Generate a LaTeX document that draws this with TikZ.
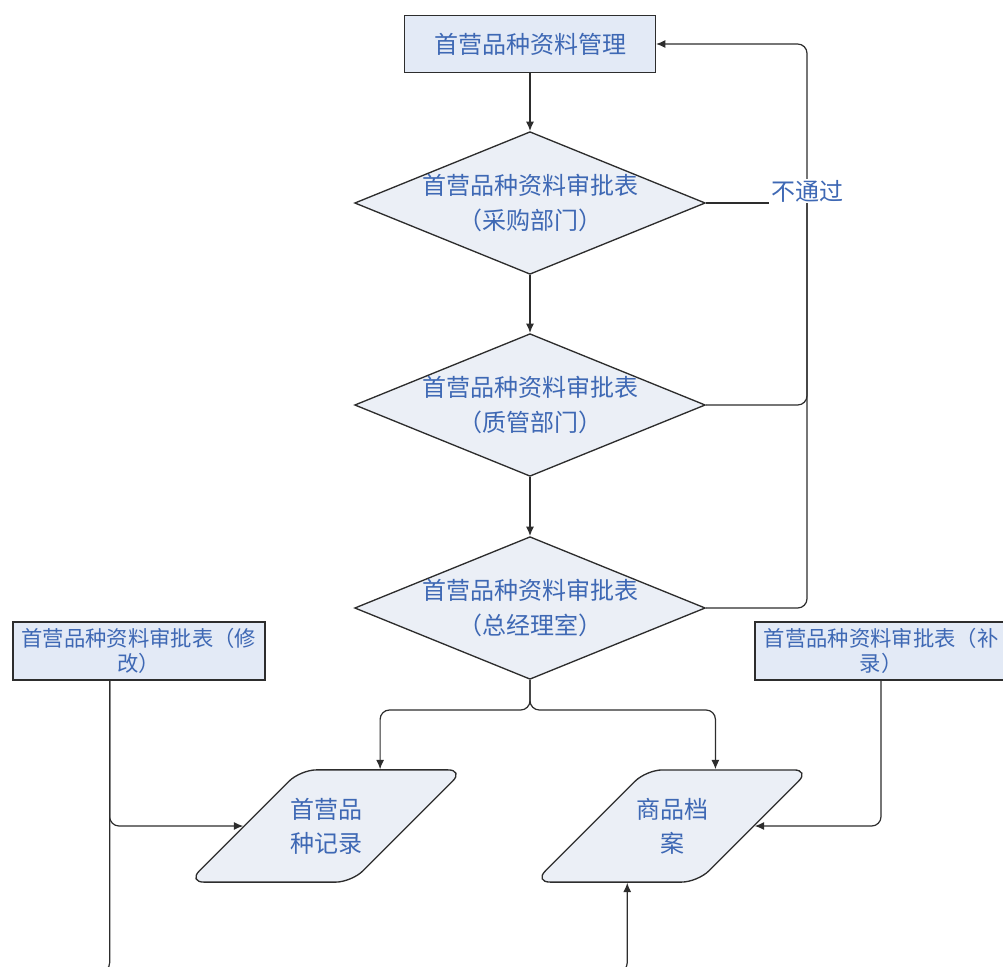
\documentclass[tikz,border=0pt]{standalone}
\usepackage{fontspec}
\setmainfont{Noto Sans CJK SC}
\usetikzlibrary{shapes.geometric,arrows.meta,backgrounds}
\definecolor{txtblue}{RGB}{62,104,180}
\definecolor{boxfill}{RGB}{227,234,246}
\definecolor{shapefill}{RGB}{235,239,246}
\definecolor{edgegray}{RGB}{45,45,45}

\begin{document}
\begin{tikzpicture}[x=0.75pt, y=-0.75pt, >={Latex[length=7pt,width=6pt]},
	box/.style={draw=edgegray, line width=1pt, fill=boxfill, text=txtblue, inner sep=0pt, font=\fontsize{18}{24}\selectfont},
	sidebox/.style={box, minimum width=189pt, minimum height=43.5pt, align=center, font=\fontsize{16}{19}\selectfont},
	decision/.style={diamond, aspect=2.45, draw=edgegray, line width=1pt, fill=shapefill, text=txtblue, minimum width=263pt, minimum height=107pt, inner xsep=0pt, inner ysep=-2pt, align=center, font=\fontsize{18}{26}\selectfont},
	record/.style={trapezium, trapezium left angle=45, trapezium right angle=135, draw=edgegray, line width=1pt, fill=shapefill, text=txtblue, rounded corners=12pt, inner xsep=-7.75pt, inner ysep=21pt, align=center, font=\fontsize{18}{25.5}\selectfont},
	line/.style={draw=edgegray, line width=0.9pt, rounded corners=7pt}]
			\useasboundingbox (0,0) rectangle (1003,967);
			
			% Top: management box
			\node[box, minimum width=188pt, minimum height=43pt] (mgmt) at (530,44) {首营品种资料管理};
			
			% Approval chain
			\foreach \name/\y/\dept in {buy/203/采购部门, qc/405/质管部门, gm/608/总经理室} {
				\node[decision] (\name) at (530,\y) {首营品种资料审批表\\（\dept）};
			}
			\node[text=txtblue, fill=white, inner sep=1pt, font=\fontsize{18}{24}\selectfont] (fail) at (807,191) {不通过};
			
			% Side forms
			\node[sidebox] (fix) at (139,651) {首营品种资料审批表（修\\改）};
			\node[sidebox] (add) at (881,651) {首营品种资料审批表（补\\录）};
			
			% Records
			\node[record] (rec) at (326,826) {首营品\\种记录};
			\node[record] (arc) at (672,826) {商品档\\案};
			
			\coordinate (split) at (530,710);
			\coordinate (low) at (0,972);
			
			\begin{scope}[on background layer]
				% Down the chain
				\draw[line, ->] (mgmt) -- (buy);
				\draw[line, ->] (buy) -- (qc);
				\draw[line, ->] (qc) -- (gm);
				
				% Rejected: back to the top
				\draw[line, ->] (gm.east) -| (fail.center) |- (mgmt.east);
				\draw[line] (qc.east) -| (fail.center);
				\draw[line] (buy.east) -- (buy.east -| fail.west);
				
				% Approved: split into both records
				\draw[line, ->] (gm.south) -- (split) -| ([xshift=-2pt]rec.top side);
				\draw[line, ->] (gm.south) -- (split) -| ([xshift=-10pt]arc.top side);
				
				% Side forms into records
				\draw[line, ->] ([xshift=-22pt]fix.south) |- (rec.left side);
				\draw[line, ->] ([xshift=-22pt]fix.south) |- (low) -| ([xshift=9pt]arc.bottom side);
				\draw[line, ->] (add.south) |- (arc.right side);
			\end{scope}
		\end{tikzpicture}
\end{document}
